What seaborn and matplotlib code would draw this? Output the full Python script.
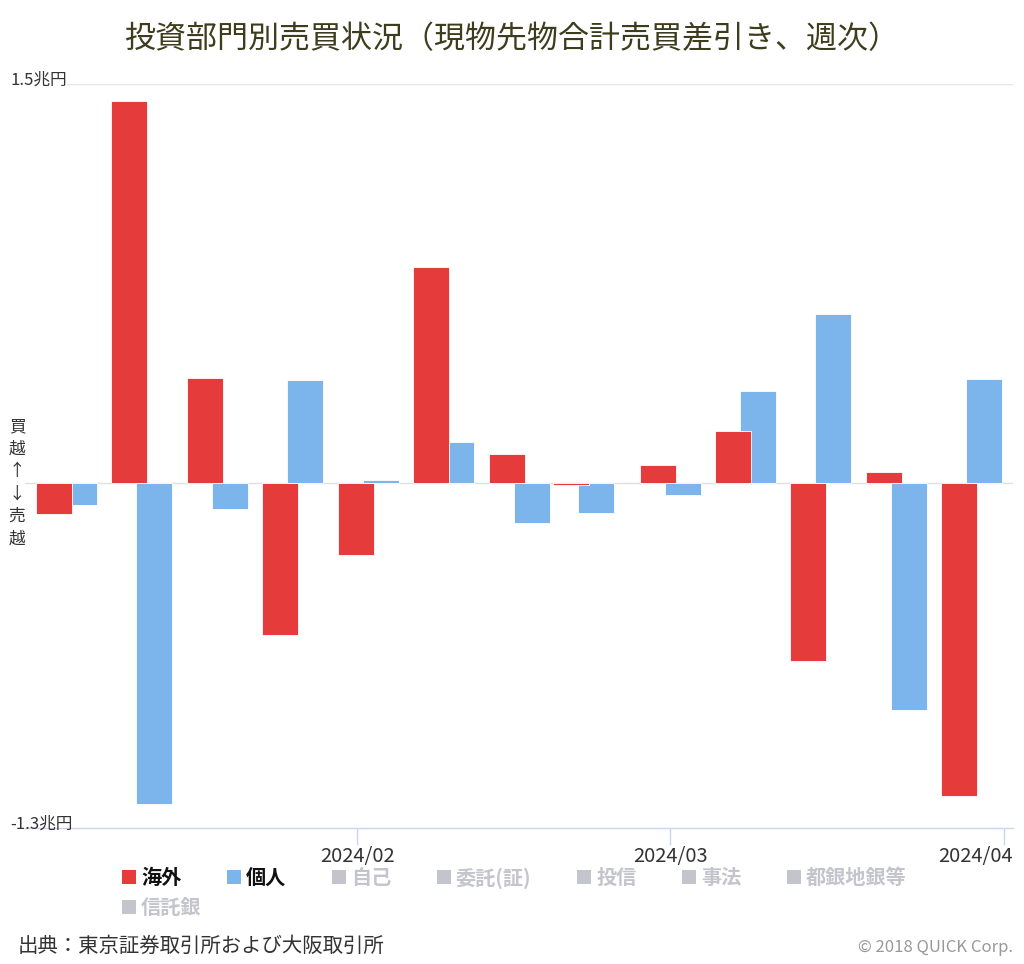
import matplotlib
matplotlib.use('Agg')
import matplotlib.pyplot as plt
import matplotlib.dates as mdates
from matplotlib.patches import Patch
from matplotlib.transforms import ScaledTranslation, blended_transform_factory
import seaborn as sns
import pandas as pd
import numpy as np

# weekly net buying (兆円), week ending date
weeks = ['2024-01-05', '2024-01-12', '2024-01-19', '2024-01-26', '2024-02-02', '2024-02-09',
         '2024-02-16', '2024-02-22', '2024-03-01', '2024-03-08', '2024-03-15', '2024-03-22',
         '2024-03-29']
overseas = [-0.119, 1.436, 0.393, -0.574, -0.273, 0.811, 0.107, -0.009, 0.068, 0.194,
            -0.672, 0.042, -1.180]
individual = [-0.085, -1.210, -0.097, 0.386, 0.009, 0.152, -0.150, -0.112, -0.047, 0.344,
              0.634, -0.856, 0.390]
legend_labels = ['海外', '個人', '自己', '委託(証)', '投信', '事法', '都銀地銀等', '信託銀']
month_ticks = ['2024-02-01', '2024-03-01', '2024-04-01']
y_limits = [-1.3, 1.5]
y_limit_labels = ['-1.3兆円', '1.5兆円']

RED = '#e63b3b'
BLUE = '#7cb5ec'
GREY = '#c4c4cc'

sns.set_style('white')
plt.rcParams['font.family'] = ['Noto Sans CJK JP', 'DejaVu Sans']

fig = plt.figure(figsize=(10.24, 9.64), dpi=100)
ax = fig.add_axes([25 / 1024, (964 - 828.3) / 964, (1013 - 25) / 1024, (828.3 - 84.3) / 964])

df = pd.DataFrame({'week': pd.to_datetime(weeks), '海外': overseas, '個人': individual})
df['xnum'] = mdates.date2num(df['week'])

shift = 1.16  # days from group centre to each bar
bar_w = 3.34 / np.diff(df['xnum']).min()

sns.barplot(x=df['xnum'] + shift, y=df['個人'], native_scale=True, orient='x', width=bar_w,
            color=BLUE, saturation=1, errorbar=None, edgecolor='white', linewidth=0.6,
            ax=ax, zorder=2)
sns.barplot(x=df['xnum'] - shift, y=df['海外'], native_scale=True, orient='x', width=bar_w,
            color=RED, saturation=1, errorbar=None, edgecolor='white', linewidth=0.6,
            ax=ax, zorder=3)

ax.set_xlim(mdates.date2num(pd.Timestamp('2024-01-01')) + 0.17,
            mdates.date2num(pd.Timestamp('2024-04-01')) + 0.81)
ax.set_ylim(*y_limits)
ax.set_xlabel('')
ax.set_ylabel('')
ax.set_yticks([])

for s in ['top', 'left', 'right']:
    ax.spines[s].set_visible(False)
ax.spines['bottom'].set_color('#ccd6eb')
ax.spines['bottom'].set_linewidth(1)
ax.axhline(y_limits[1], color='#e6e6e6', lw=1, zorder=1)
ax.axhline(0, color='#e0e0e0', lw=1, zorder=1)

tick_pos = mdates.date2num(pd.to_datetime(month_ticks))
ax.set_xticks(tick_pos)
lbls = ax.set_xticklabels(pd.to_datetime(month_ticks).strftime('%Y/%m'))
ax.tick_params(axis='x', bottom=True, direction='out', length=12, width=1, color='#ccd6eb',
               pad=1, labelsize=14.5, labelcolor='#333333')
lbls[-1].set_ha('right')
lbls[-1].set_transform(lbls[-1].get_transform() + ScaledTranslation(9 / 100, 0, fig.dpi_scale_trans))

# y-limit labels on the left edge
tr = blended_transform_factory(fig.transFigure, ax.transData)
ax.text(10 / 1024, y_limits[1], y_limit_labels[1], transform=tr, va='baseline', ha='left',
        size=12, color='#333333', zorder=5,
        bbox=dict(facecolor='white', edgecolor='none', pad=0.5))
ax.text(10 / 1024, y_limits[0], y_limit_labels[0], transform=tr, va='baseline', ha='left',
        size=12, color='#333333', zorder=5)
ax.text(17 / 1024, 0, '買\n越\n↑\n↓\n売\n越', transform=tr, va='center', ha='center',
        size=12, color='#333333', linespacing=1.42)

fig.text(0.5, 1 - 40 / 964, '投資部門別売買状況（現物先物合計売買差引き、週次）', ha='center',
         va='center', size=22.3, color='#3d3d1d')

colors = [RED, BLUE] + [GREY] * 6
handles = [Patch(facecolor=c, edgecolor='none') for c in colors]
leg_kw = dict(loc='upper left', frameon=False, prop={'size': 14.5, 'weight': 'bold'},
              handlelength=0.7, handleheight=0.7, handletextpad=0.25, columnspacing=2.26,
              borderaxespad=0, borderpad=0)
leg1 = fig.legend(handles[:7], legend_labels[:7], ncol=7,
                  bbox_to_anchor=(122 / 1024, 1 - 867 / 964), **leg_kw)
leg2 = fig.legend(handles[7:], legend_labels[7:], ncol=1,
                  bbox_to_anchor=(122 / 1024, 1 - 897 / 964), **leg_kw)
for i, t in enumerate(leg1.get_texts() + leg2.get_texts()):
    t.set_color('#111111' if i < 2 else GREY)

fig.text(18 / 1024, 1 - 946 / 964, '出典：東京証券取引所および大阪取引所', va='center', ha='left',
         size=14.7, color='#333333')
fig.text(1013 / 1024, 1 - 948 / 964, '© 2018 QUICK Corp.', va='center', ha='right',
         size=12, color='#999999')

fig.savefig('out.png', dpi=100)
